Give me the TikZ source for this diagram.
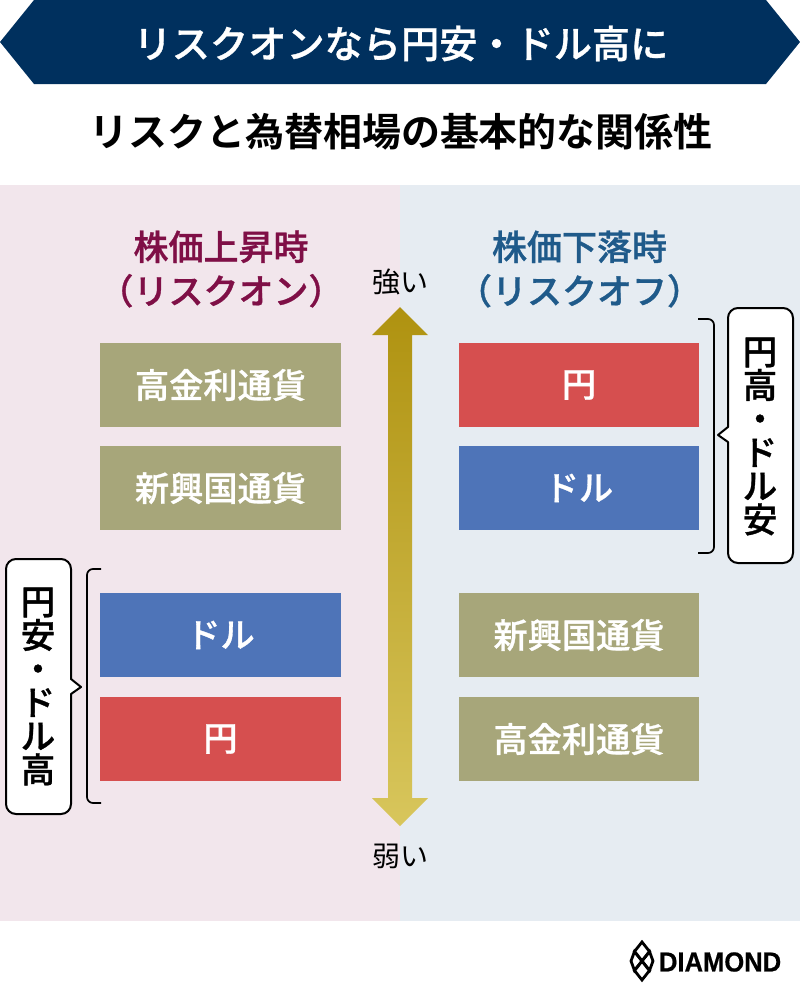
\documentclass[tikz,border=0pt]{standalone}
\usepackage{fontspec}
\setmainfont{Liberation Sans}
\newfontfamily\cjk[BoldFont={Noto Sans CJK JP Medium},BoldFeatures={FakeBold=0.9}]{Noto Sans CJK JP}
\newfontfamily\cjkb[BoldFont={Noto Sans CJK JP Bold}]{Noto Sans CJK JP}
\newfontfamily\logofont[FakeStretch=0.93,FakeBold=0.6]{Liberation Sans Bold}
\definecolor{navy}{HTML}{00305E}
\definecolor{bgpink}{HTML}{F2E6EC}
\definecolor{bgblue}{HTML}{E6ECF2}
\definecolor{olivebox}{HTML}{A7A67A}
\definecolor{redbox}{HTML}{D64F4F}
\definecolor{bluebox}{HTML}{4E74B8}
\definecolor{headred}{HTML}{7F0F46}
\definecolor{headblue}{HTML}{1F5A8A}
\definecolor{arrowtop}{HTML}{AF9210}
\definecolor{arrowbot}{HTML}{D8C65C}
\tikzset{
  txt/.style={inner sep=0pt,outer sep=0pt,font=\cjk},
  cellbox/.style={inner sep=0pt,outer sep=0pt,minimum width=241pt,minimum height=84pt,text=white,font=\cjk\fontsize{34.2}{34}\selectfont\bfseries},
  rcell/.style={minimum width=240pt},
  olivecell/.style={cellbox,fill=olivebox},
  redcell/.style={cellbox,fill=redbox},
  bluecell/.style={cellbox,fill=bluebox},
  headtxt/.style={txt,align=center,font=\cjk\fontsize{35}{44}\selectfont\bfseries},
  stack/.style={txt,align=center,font=\cjk\fontsize{34.5}{33.6}\selectfont\bfseries},
  callout/.style={draw=black,fill=white,line width=2pt,line join=round},
  brace/.style={draw=black,line width=1.7pt},
  lgd/.style={draw=black,line width=2.8pt,fill=none,line join=miter}
}
\begin{document}
\begin{tikzpicture}[x=1pt,y=-1pt]
\useasboundingbox (0,0) rectangle (800,1002);
\fill[white] (0,0) rectangle (800,1002);
% banner
\fill[navy] (0,42) -- (34,0) -- (766,0) -- (800,42) -- (766,84) -- (34,84) -- cycle;
\node[txt,text=white,font=\cjk\fontsize{38.2}{38}\selectfont\bfseries] (title) at (401,43.5) {リスクオンなら円安・ドル高に};
\node[txt,font=\cjkb\fontsize{39}{39}\selectfont\bfseries] (sub) at (401,131.5) {リスクと為替相場の基本的な関係性};
% backgrounds
\fill[bgpink] (0,185) rectangle (400,921);
\fill[bgblue] (400,185) rectangle (800,921);
% headers
\node[headtxt,text=headred] (hl) at (221,269) {株価上昇時\\（リスクオン）};
\node[headtxt,text=headblue] (hr) at (579.5,269) {株価下落時\\（リスクオフ）};
% cells
\node[olivecell] (l1) at (220.5,385) {\raisebox{-1pt}{高金利通貨}};
\node[olivecell] (l2) at (220.5,488) {\raisebox{-1pt}{新興国通貨}};
\node[bluecell] (l3) at (220.5,635) {\raisebox{-1pt}{ドル}};
\node[redcell] (l4) at (220.5,739) {\raisebox{-1pt}{円}};
\node[redcell,rcell] (r1) at (579,385) {\raisebox{-1pt}{円}};
\node[bluecell,rcell] (r2) at (579,488) {\raisebox{-1pt}{ドル}};
\node[olivecell,rcell] (r3) at (579,635) {\raisebox{-1pt}{新興国通貨}};
\node[olivecell,rcell] (r4) at (579,739) {\raisebox{-1pt}{高金利通貨}};
% strength arrow
\shade[top color=arrowtop,bottom color=arrowbot]
  (400,307) -- (428,335) -- (412,335) -- (412,798) -- (428,798) -- (400,826)
  -- (372,798) -- (388,798) -- (388,335) -- (372,335) -- cycle;
\node[txt,font=\cjk\fontsize{28}{28}\selectfont] (strong) at (400,281.5) {強い};
\node[txt,font=\cjk\fontsize{28}{28}\selectfont] (weak) at (400,856) {弱い};
% left brace and callout
\draw[brace] (101,569) -- (93,569) arc[start angle=270,end angle=180,radius=6] -- (87,797) arc[start angle=180,end angle=90,radius=6] -- (101,803);
\draw[callout] (16,559) -- (61,559) arc[start angle=270,end angle=360,radius=10] -- (71,679) -- (81,687) -- (71,694) -- (71,804)
  arc[start angle=0,end angle=90,radius=10] -- (16,814) arc[start angle=90,end angle=180,radius=10] -- (6,569) arc[start angle=180,end angle=270,radius=10] -- cycle;
\node[stack] (cl) at (38,686.5) {円\\安\\・\\ド\\ル\\高};
% right brace and callout
\draw[brace] (698,319) -- (708,319) arc[start angle=270,end angle=360,radius=6] -- (714,547) arc[start angle=0,end angle=90,radius=6] -- (698,553);
\draw[callout] (738,308) -- (783,308) arc[start angle=270,end angle=360,radius=10] -- (793,553) arc[start angle=0,end angle=90,radius=10]
  -- (738,563) arc[start angle=90,end angle=180,radius=10] -- (728,442) -- (718,435) -- (728,427) -- (728,318) arc[start angle=180,end angle=270,radius=10] -- cycle;
\node[stack] (cr) at (760,436.5) {円\\高\\・\\ド\\ル\\安};
% logo
\draw[lgd] (642,942) -- (649.5,951.5) -- (642,961) -- (634.5,951.5) -- cycle;
\draw[lgd] (642,961) -- (649.5,970.5) -- (642,980) -- (634.5,970.5) -- cycle;
\draw[lgd] (634.5,951.5) -- (642,961) -- (634.5,970.5) -- (631,961) -- cycle;
\draw[lgd] (649.5,951.5) -- (653,961) -- (649.5,970.5) -- (642,961) -- cycle;
\node[txt,anchor=west,font=\logofont\fontsize{27.5}{28}\selectfont] (logo) at (659,962) {DIAMOND};
\end{tikzpicture}
\end{document}
